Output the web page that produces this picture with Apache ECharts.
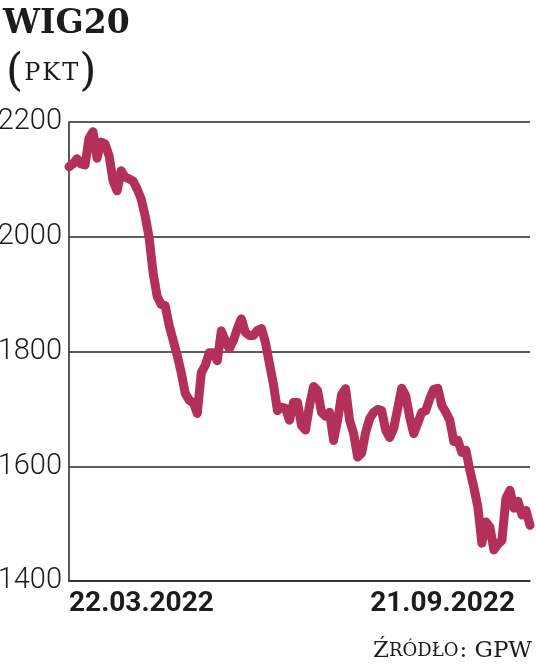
<!DOCTYPE html>
<html>
<head>
<meta charset="utf-8">
<script src="https://cdn.jsdelivr.net/npm/echarts@6/dist/echarts.min.js"></script>
<style>
  html, body { margin: 0; padding: 0; background: #ffffff; }
  #chart { width: 536px; height: 667px; }
</style>
</head>
<body>
<div id="chart"></div>
<script>
// WIG20 daily close, 22.03.2022 – 21.09.2022
const wig20 = [
  2122, 2127, 2136, 2127, 2125, 2172, 2183, 2137, 2165, 2162,
  2141, 2097, 2080, 2115, 2104, 2101, 2097, 2083, 2066, 2036,
  1998, 1936, 1896, 1882, 1880, 1845, 1819, 1793, 1763, 1727,
  1715, 1711, 1692, 1763, 1776, 1798, 1798, 1784, 1836, 1819,
  1805, 1819, 1840, 1857, 1833, 1828, 1828, 1837, 1840, 1816,
  1779, 1743, 1697, 1703, 1701, 1680, 1711, 1711, 1671, 1663,
  1706, 1739, 1732, 1694, 1687, 1694, 1645, 1680, 1725, 1735,
  1680, 1657, 1616, 1623, 1659, 1683, 1694, 1699, 1697, 1663,
  1650, 1666, 1701, 1736, 1723, 1685, 1657, 1675, 1694, 1697,
  1718, 1734, 1736, 1706, 1694, 1680, 1643, 1645, 1624, 1628,
  1593, 1563, 1529, 1466, 1503, 1494, 1454, 1464, 1471, 1544,
  1558, 1527, 1539, 1515, 1523, 1497
];
const xTickLabels = ['22.03.2022', '21.09.2022'];
const yMin = 1400;
const yMax = 2200;
const yStep = 200;
const titleText = 'WIG20';
const unitText = 'PKT';
const sourceText = ['Ź', 'RÓDŁO', ': GPW'];

const categories = wig20.map((_, i) => i);
const lastIndex = categories.length - 1;

const chart = echarts.init(document.getElementById('chart'), null, { renderer: 'canvas' });

const axisColor = '#262626';
const lineColor = '#b3305a';
const textColor = '#1c1c1c';
const dateFont = "Roboto, 'DejaVu Sans Condensed', sans-serif";

const unitRich = unitText.split('').map(ch => '{t|' + ch + '}').join('');

chart.setOption({
  animation: false,
  backgroundColor: '#ffffff',
  title: [
    {
      text: titleText,
      left: -2, top: 3,
      textStyle: { fontFamily: 'DejaVu Serif', fontWeight: 'bold', fontSize: 33, color: textColor }
    },
    {
      text: '{p|(}' + unitRich + '{p|)}',
      left: 1, top: 44,
      textStyle: {
        fontWeight: 'normal',
        rich: {
          p: { fontFamily: 'DejaVu Serif', fontWeight: 'normal', fontSize: 44, color: textColor, lineHeight: 50 },
          t: { fontFamily: 'DejaVu Serif', fontWeight: 'normal', fontSize: 24, color: textColor, lineHeight: 50, padding: [0, 1, 0, 1] }
        }
      }
    },
    {
      text: '{c|' + sourceText[0] + '}{s|' + sourceText[1] + '}{c|' + sourceText[2] + '}',
      right: -1, top: 632,
      textStyle: {
        fontWeight: 'normal',
        rich: {
          c: { fontFamily: 'DejaVu Serif', fontWeight: 'normal', fontSize: 23, color: textColor, lineHeight: 28 },
          s: { fontFamily: 'DejaVu Serif', fontWeight: 'normal', fontSize: 18, color: textColor, lineHeight: 28, padding: [0, 1, 0, 0] }
        }
      }
    }
  ],
  grid: {
    left: 69, right: 6, top: 122, bottom: 86,
    containLabel: false,
    outerBoundsMode: 'none'
  },
  xAxis: {
    type: 'category',
    data: categories,
    boundaryGap: false,
    axisLine: { show: true, lineStyle: { color: axisColor, width: 1.5 } },
    axisTick: { show: false },
    splitLine: { show: false },
    axisLabel: {
      show: true,
      interval: 0,
      showMinLabel: true,
      showMaxLabel: true,
      alignMinLabel: 'left',
      alignMaxLabel: 'right',
      margin: 9,
      verticalAlign: 'top',
      fontFamily: dateFont,
      fontWeight: 'bold',
      fontSize: 28,
      color: textColor,
      formatter: function (v, idx) {
        if (idx === 0) return xTickLabels[0];
        if (idx === lastIndex) return '{r|' + xTickLabels[1] + '}';
        return '';
      },
      rich: {
        r: {
          fontFamily: dateFont,
          fontWeight: 'bold',
          fontSize: 28,
          color: textColor,
          padding: [0, 15, 0, 0]
        }
      }
    }
  },
  yAxis: {
    type: 'value',
    min: yMin,
    max: yMax,
    interval: yStep,
    axisLine: { show: true, lineStyle: { color: axisColor, width: 1.5 } },
    axisTick: { show: false },
    splitLine: { show: true, lineStyle: { color: axisColor, width: 1.5 } },
    axisLabel: {
      margin: 7,
      fontFamily: 'Roboto',
      fontWeight: 300,
      fontSize: 29,
      color: textColor,
      formatter: function (v) { return String(v); }
    }
  },
  series: [
    {
      type: 'line',
      data: wig20,
      symbol: 'none',
      smooth: false,
      clip: false,
      lineStyle: { color: lineColor, width: 9, cap: 'round', join: 'round' }
    }
  ]
});
</script>
</body>
</html>
